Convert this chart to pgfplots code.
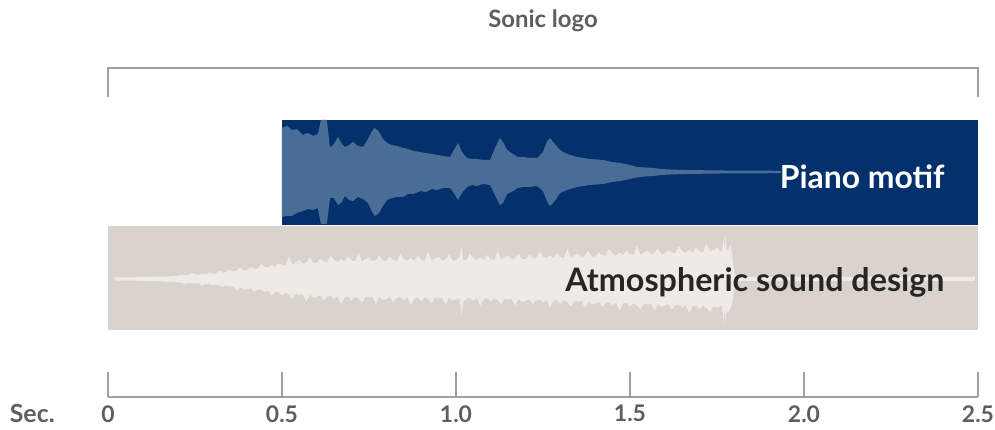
\documentclass[border=0pt]{standalone}
\usepackage{pgfplots}
\usepackage{pgfplotstable}
\pgfplotsset{compat=1.18}
\usepgfplotslibrary{fillbetween}
\usepackage{fontspec}
\setmainfont{Lato}
\definecolor{navy}{HTML}{04316C}
\definecolor{waveblue}{HTML}{4A6D97}
\definecolor{beige}{HTML}{DAD3CD}
\definecolor{wavelight}{HTML}{EEEBE7}
\definecolor{linegray}{HTML}{A0A0A0}
\definecolor{textgray}{HTML}{5E5E5E}
\definecolor{darktext}{HTML}{262626}
\pgfplotstableread{
t a b
0.500 44 45
0.514 46 44
0.529 42 44
0.543 43 41
0.560 37 39
0.575 39 37
0.589 36 38
0.603 38 36
0.612 52 52
0.629 52 52
0.638 24 26
0.649 28 26
0.661 35 33
0.672 28 30
0.681 25 24
0.693 27 28
0.704 30 29
0.718 26 25
0.733 25 27
0.747 33 31
0.759 41 40
0.767 44 44
0.779 40 41
0.790 33 34
0.802 29 28
0.816 27 26
0.830 26 25
0.848 24 25
0.862 23 22
0.879 21 22
0.897 20 19
0.914 19 20
0.931 18 17
0.945 17 18
0.963 16 16
0.983 15 16
0.994 22 21
1.006 29 28
1.017 20 21
1.032 14 15
1.046 13 13
1.060 13 14
1.078 12 12
1.098 12 13
1.112 24 23
1.126 34 33
1.135 30 31
1.147 22 22
1.164 18 19
1.178 15 16
1.193 15 15
1.213 14 15
1.233 14 14
1.250 20 19
1.261 30 29
1.270 34 34
1.284 28 29
1.299 22 21
1.319 18 18
1.348 15 15
1.385 13 13
1.422 12 12
1.448 10 10
1.471 9 9
1.500 7 7
1.520 5 5.5
1.543 4.5 4.5
1.566 4 4
1.592 3 3
1.615 2.5 2.5
1.658 2 2
1.701 1.8 1.8
1.759 1.5 1.5
1.931 1.2 1.2
1.935 0 0
}\pianodata
\pgfplotstableread{
t a b
0.020 1.5 1.5
0.092 1.8 1.8
0.140 2.2 2.2
0.170 2.6 2.8
0.190 2.8 2.6
0.20 3.0 3.6
0.21 4.4 3.2
0.22 3.7 4.9
0.23 3.6 3.9
0.24 5.9 3.8
0.25 4.6 4.9
0.26 4.2 4.2
0.27 5.3 6.8
0.28 4.6 4.9
0.29 6.3 4.8
0.30 5.3 6.2
0.31 5.4 5.4
0.32 8.5 6.4
0.33 6.2 8.0
0.34 7.2 6.6
0.35 9.4 7.6
0.36 7.4 7.4
0.37 8.4 12.0
0.38 11.8 8.2
0.39 8.6 10.4
0.40 9.0 10.2
0.41 11.8 9.4
0.42 10.4 12.8
0.43 10.2 10.8
0.44 14.8 10.6
0.45 12.2 12.8
0.46 11.4 11.4
0.47 13.6 16.6
0.48 12.2 12.8
0.49 15.6 12.6
0.50 14.0 17.0
0.51 13.4 13.4
0.52 22.8 15.8
0.53 14.2 20.2
0.54 16.6 14.6
0.55 19.0 16.0
0.56 15.2 15.2
0.57 16.4 22.4
0.58 21.6 15.6
0.59 15.8 18.8
0.60 16.0 18.0
0.61 20.2 16.2
0.62 17.4 21.4
0.63 16.6 17.6
0.64 23.8 16.8
0.65 19.0 20.0
0.66 17.1 17.1
0.67 20.2 25.2
0.68 17.3 18.3
0.69 22.4 17.4
0.70 18.5 21.5
0.71 17.5 17.5
0.72 26.6 19.6
0.73 17.6 23.6
0.74 19.7 17.7
0.75 21.7 18.7
0.76 17.8 17.8
0.77 18.8 24.8
0.78 23.9 17.9
0.79 18.0 21.0
0.80 18.0 20.0
0.81 22.0 18.0
0.82 19.0 23.0
0.83 18.1 19.1
0.84 25.1 18.1
0.85 20.1 21.1
0.86 18.2 18.2
0.87 21.2 26.2
0.88 18.2 19.2
0.89 23.2 18.2
0.90 19.2 22.2
0.91 18.3 18.3
0.92 27.3 20.3
0.93 18.3 24.3
0.94 20.4 18.4
0.95 22.4 19.4
0.96 18.4 18.4
0.97 19.4 25.4
0.98 24.5 18.5
0.99 18.5 21.5
1.00 18.5 20.5
1.01 22.5 18.5
1.016 33.0 36.0
1.02 19.6 23.6
1.03 18.6 19.6
1.04 25.7 18.7
1.05 20.7 21.7
1.06 18.8 18.8
1.07 21.8 26.8
1.08 18.9 19.9
1.09 23.9 18.9
1.10 20.0 23.0
1.11 19.1 19.1
1.12 28.2 21.2
1.13 19.3 25.3
1.14 21.4 19.4
1.15 23.5 20.5
1.16 19.6 19.6
1.17 20.7 26.7
1.18 25.8 19.8
1.19 19.9 22.9
1.20 20.0 22.0
1.21 24.1 20.1
1.22 21.2 25.2
1.23 20.3 21.3
1.24 27.4 20.4
1.25 22.5 23.5
1.26 20.6 20.6
1.27 23.7 28.7
1.28 20.8 21.8
1.29 25.9 20.9
1.30 22.0 25.0
1.31 21.1 21.1
1.32 30.3 23.3
1.33 21.4 27.4
1.34 23.6 21.6
1.35 25.7 22.7
1.36 21.9 21.9
1.37 23.0 29.0
1.38 28.2 22.2
1.39 22.3 25.3
1.40 22.5 24.5
1.41 26.6 22.6
1.42 23.8 27.8
1.43 22.9 23.9
1.44 30.1 23.1
1.45 25.2 26.2
1.46 23.4 23.4
1.47 26.5 31.5
1.48 23.7 24.7
1.49 28.8 23.8
1.50 25.0 28.0
1.51 24.1 24.1
1.52 33.2 26.2
1.53 24.3 30.3
1.54 26.4 24.4
1.55 28.5 25.5
1.56 24.6 24.6
1.57 25.7 31.7
1.58 30.8 24.8
1.59 24.9 27.9
1.60 25.0 27.0
1.61 29.1 25.1
1.62 26.3 30.3
1.63 25.4 26.4
1.64 32.6 25.6
1.65 27.7 28.7
1.66 25.9 25.9
1.67 29.0 34.0
1.68 26.2 27.2
1.69 31.3 26.3
1.70 27.5 30.5
1.71 26.6 26.6
1.72 35.8 28.8
1.73 27.0 33.0
1.74 29.1 27.1
1.75 31.2 28.2
1.76 27.4 27.4
1.765 27.5 27.5
1.768 42.0 43.0
1.771 30.0 30.0
1.775 44.0 43.0
1.778 29.0 29.0
1.78 28.0 35.0
1.79 34.0 28.0
1.795 20.0 22.0
1.800 6.0 6.0
1.805 2.0 2.0
1.989 2.0 2.0
2.276 2.0 2.0
2.491 2.0 2.0
}\atmodata
\begin{document}
\begin{tikzpicture}
\begin{axis}[
  set layers,
  x=174bp, y=0.5bp,
  xmin=0, xmax=2.5, ymin=0, ymax=329,
  clip=false,
  axis x line=bottom, axis y line=none,
  x axis line style={-, linegray, line width=0.8bp},
  xtick={0,0.5,1,1.5,2,2.5},
  xticklabels={0,0.5,1.0,1.5,2.0,2.5},
  tick align=inside,
  major tick length=12.5bp,
  tick style={linegray, line width=0.8bp},
  xticklabel style={text=textgray, font=\bfseries\fontsize{11.5}{11.5}\selectfont, inner sep=0pt, yshift=-4bp},
  /pgf/number format/assume math mode=true,
]
\coordinate (bbl) at (axis cs:-0.3103,-33);
\coordinate (bbr) at (axis cs:2.5489,397);
% rectangles
\addplot[fill=navy, draw=none, on layer=axis background] coordinates {(0.5,172) (2.5,172) (2.5,277) (0.5,277)} -- cycle;
\addplot[fill=beige, draw=none, on layer=axis background] coordinates {(0,67) (2.5,67) (2.5,171) (0,171)} -- cycle;
% waveforms
\addplot[draw=none, name path=pt] table[x=t, y expr=225+\thisrow{a}] {\pianodata};
\addplot[draw=none, name path=pb] table[x=t, y expr=225-\thisrow{b}] {\pianodata};
\addplot[fill=waveblue, draw=none] fill between[of=pt and pb];
\addplot[draw=none, name path=at] table[x=t, y expr=118+\thisrow{a}] {\atmodata};
\addplot[draw=none, name path=ab] table[x=t, y expr=118-\thisrow{b}] {\atmodata};
\addplot[fill=wavelight, draw=none] fill between[of=at and ab];
% labels
\node[anchor=east, text=white, font=\bfseries\fontsize{16}{16}\selectfont, inner sep=0pt] at (axis cs:2.405,220) {Piano motif};
\node[anchor=east, text=darktext, font=\bfseries\fontsize{16.2}{16.2}\selectfont, inner sep=0pt] at (axis cs:2.405,115) {Atmospheric sound design};
% bracket
\draw[linegray, line width=0.8bp] (axis cs:0,300) -- (axis cs:0,329) -- (axis cs:2.5,329) -- (axis cs:2.5,300);
% title
\node[text=textgray, font=\bfseries\fontsize{12}{12}\selectfont] at (axis cs:1.25,376) {Sonic logo};
% x label
\node[anchor=east, text=textgray, font=\bfseries\fontsize{12.5}{12.5}\selectfont, inner sep=0pt] at (axis cs:-0.152,-17) {Sec.};
\end{axis}
\pgfresetboundingbox
\path (bbl) rectangle (bbr);
\end{tikzpicture}
\end{document}
